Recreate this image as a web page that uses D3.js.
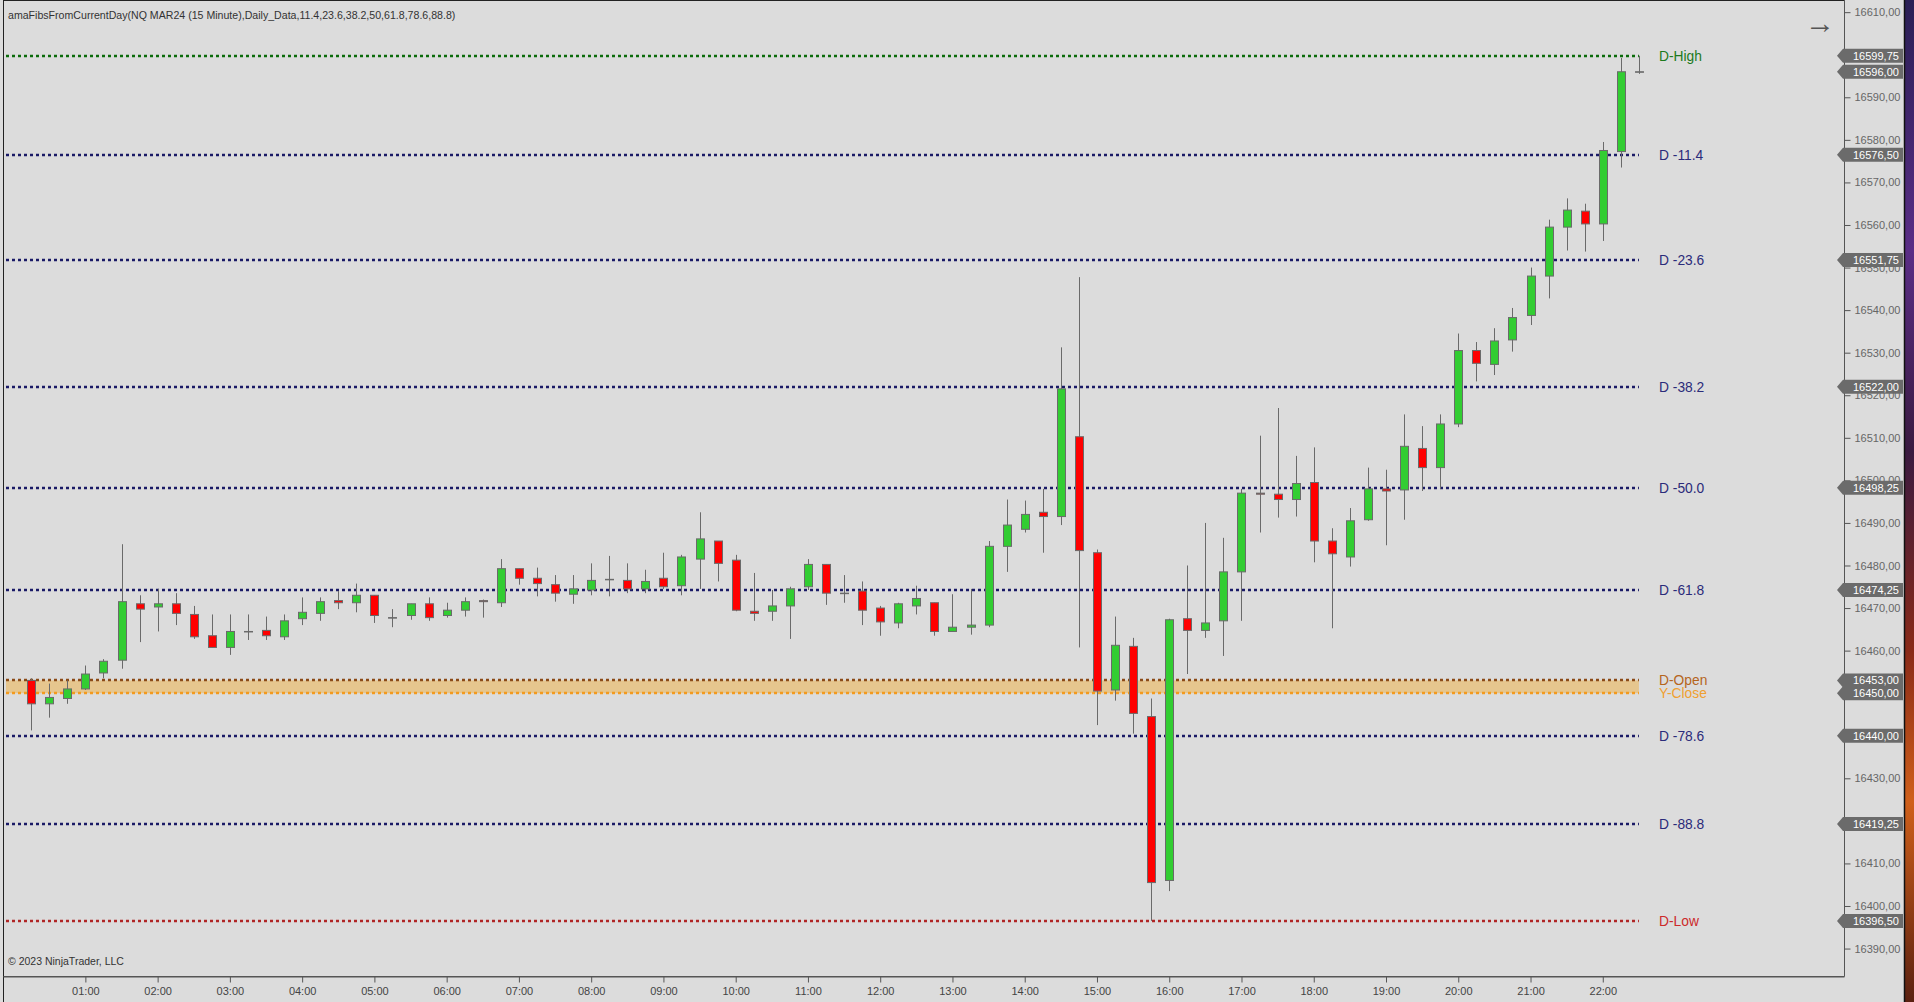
<!DOCTYPE html>
<html><head><meta charset="utf-8">
<script src="https://cdn.jsdelivr.net/npm/d3@7"></script>
<style>
body{margin:0;background:#dcdcdc;overflow:hidden}
svg{display:block}
text{font-family:Arial,"Liberation Sans",sans-serif}
</style></head>
<body><svg id="chart" width="1914" height="1002"></svg>
<script>
// ---------- DATA ----------
const chartTitle = "amaFibsFromCurrentDay(NQ MAR24 (15 Minute),Daily_Data,11.4,23.6,38.2,50,61.8,78.6,88.8)";
const copyright = "© 2023 NinjaTrader, LLC";

const times = [
"00:15","00:30","00:45","01:00","01:15","01:30","01:45","02:00","02:15","02:30","02:45","03:00",
"03:15","03:30","03:45","04:00","04:15","04:30","04:45","05:00","05:15","05:30","05:45","06:00",
"06:15","06:30","06:45","07:00","07:15","07:30","07:45","08:00","08:15","08:30","08:45","09:00",
"09:15","09:30","09:45","10:00","10:15","10:30","10:45","11:00","11:15","11:30","11:45","12:00",
"12:15","12:30","12:45","13:00","13:15","13:30","13:45","14:00","14:15","14:30","14:45","15:00",
"15:15","15:30","15:45","16:00","16:15","16:30","16:45","17:00","17:15","17:30","17:45","18:00",
"18:15","18:30","18:45","19:00","19:15","19:30","19:45","20:00","20:15","20:30","20:45","21:00",
"21:15","21:30","21:45","22:00","22:15","22:30"];

const opens = [
16453,16447.5,16448.75,16451,16454.75,16457.75,16471,16470.25,16471,16468.5,16463.5,16460.75,
16464.5,16464.75,16463.25,16467.5,16468.75,16471.75,16471.25,16473,16467.75,16468.25,16471,16468.25,
16469.5,16471.75,16471.25,16479.25,16477,16475.5,16473.25,16474.25,16476.75,16476.5,16474.5,16477,
16475.25,16481.5,16485.75,16481.25,16469.25,16469.25,16470.5,16475,16480.25,16473.5,16474,16470,
16466.5,16470.5,16471.25,16464.5,16465.5,16466,16484.5,16488.5,16492.5,16491.5,16510.25,16483,
16450.75,16461,16444.5,16406,16467.5,16464.75,16467,16478.5,16497,16496.75,16495.5,16499.5,
16485.75,16482,16490.75,16498,16497.75,16507.5,16503,16513.25,16530.5,16527.25,16533,16538.75,
16548,16559.5,16563.25,16560.25,16577.25,16596];
const highs = [
16453.5,16452.25,16453,16456.5,16458,16485,16473,16474.5,16473.5,16470.5,16468.5,16468.5,
16468.5,16468,16468.5,16472.5,16472.5,16474,16475.75,16473,16469.75,16471,16472.5,16471.25,
16472.5,16472,16481.5,16479.25,16479.5,16477.75,16477.75,16480.5,16482.25,16480.5,16479,16483,
16482.5,16492.5,16485.75,16482.5,16478.25,16474.25,16475,16481.5,16480.25,16477.75,16476.25,16470.5,
16471.25,16475.25,16471.25,16473.25,16474.5,16485.75,16495.5,16495.25,16498,16531.25,16547.75,16483.75,
16468,16463,16448.75,16467.5,16480,16490,16486.5,16498,16510.5,16517,16505.75,16507.75,
16488.75,16493.5,16503,16502.5,16515.5,16512.75,16515.5,16534.5,16532.5,16535.75,16540.5,16550,
16561.25,16566.25,16565,16579.5,16599.25,16599.75];
const lows = [
16441.25,16444.25,16447.5,16450.75,16453.5,16455.75,16462,16464.5,16466,16462.75,16460.75,16459,
16462.5,16462.5,16462.5,16466,16467,16469.75,16469,16466.5,16465.5,16467.25,16467,16467.75,
16468,16467.75,16470.25,16475.5,16472.75,16471.5,16471,16473,16472.75,16473.5,16473.5,16474.5,
16473,16474.5,16476.25,16469.25,16467,16467,16462.75,16474.25,16470.75,16471.25,16466,16463.5,
16465.25,16468.5,16463.5,16464.5,16463.75,16465.5,16478.5,16487.75,16483,16489.5,16460.75,16442.5,
16448.25,16440.5,16396.5,16403.5,16454.5,16463,16458.75,16467,16487.75,16491.25,16491.5,16480.75,
16465.25,16479.75,16490.5,16484.75,16490.75,16497.5,16498,16512.5,16523.25,16524.75,16530.25,16536.5,
16542.75,16554,16553.75,16556.25,16573.5,16595.5];
const closes = [
16447.5,16449,16451,16454.5,16457.5,16471.5,16469.75,16471,16468.75,16463.25,16460.75,16464.5,
16464.5,16463.5,16467,16469,16471.5,16471.25,16473,16468.25,16467.75,16471,16467.75,16469.5,
16471.5,16471.5,16479.25,16477,16475.75,16473.5,16474.5,16476.5,16476.75,16474.5,16476.25,16475,
16482,16486.25,16480.5,16469.5,16468.75,16470.5,16474.5,16480.25,16473.5,16473.5,16469.5,16466.75,
16471,16472.25,16464.5,16465.5,16466,16484.5,16489.5,16492,16491.5,16521.5,16483.5,16450.5,
16461.25,16445.25,16405.5,16467.25,16464.75,16466.5,16478.5,16497,16496.75,16495.5,16499.25,16485.75,
16482.75,16490.5,16498,16497.5,16508,16503,16513.25,16530.5,16527.5,16532.75,16538.25,16548,
16559.5,16563.5,16560.25,16577.5,16596,16596];

const levelNames  = ["D-High","D -11.4","D -23.6","D -38.2","D -50.0","D -61.8","D-Open","Y-Close","D -78.6","D -88.8","D-Low"];
const levelValues = [16599.75,16576.5,16551.75,16522,16498.25,16474.25,16453,16450,16440,16419.25,16396.5];

const priceTicks = [16390,16400,16410,16420,16430,16440,16450,16460,16470,16480,16490,16500,
                    16510,16520,16530,16540,16550,16560,16570,16580,16590,16600,16610];
const timeTickLabels = ["01:00","02:00","03:00","04:00","05:00","06:00","07:00","08:00","09:00","10:00","11:00",
                        "12:00","13:00","14:00","15:00","16:00","17:00","18:00","19:00","20:00","21:00","22:00"];

// ---------- STYLE ----------
const levelStyle = {
  "D-High":  {line:"#0b6b0b", text:"#1d7a1d"},
  "D-Open":  {line:"#8b4a16", text:"#b5651d"},
  "Y-Close": {line:"#f39a1e", text:"#f0a030"},
  "D-Low":   {line:"#b02525", text:"#cc2a2a"},
  "fib":     {line:"#1a1a66", text:"#2b2b7a"}
};

// ---------- SCALES ----------
const svg = d3.select("#chart");
const toMin = s => { const [h,m] = s.split(":").map(Number); return h*60+m; };
const x = d3.scaleLinear().domain([-8.4, 1520.3]).range([3, 1844]);
const y = d3.scaleLinear().domain([16384, 16613]).range([974.1, -0.6]);
const fmt = v => d3.format(".2f")(v).replace(".", ",");

// background
svg.append("rect").attr("width",1914).attr("height",1002).attr("fill","#dcdcdc");

// desktop strip at right
const defs = svg.append("defs");
const g1 = defs.append("linearGradient").attr("id","wall").attr("x1",0).attr("y1",0).attr("x2",0).attr("y2",1);
[[0,"#2a1f55"],[0.25,"#5a2d86"],[0.45,"#3a1a40"],[0.65,"#8a2a18"],[0.8,"#d0601a"],[1,"#5a2010"]]
  .forEach(([o,c]) => g1.append("stop").attr("offset",o).attr("stop-color",c));
svg.append("rect").attr("x",1905).attr("y",0).attr("width",9).attr("height",1002).attr("fill","url(#wall)");
svg.append("line").attr("x1",1904.5).attr("x2",1904.5).attr("y1",0).attr("y2",1002).attr("stroke","#111").attr("stroke-width",1.5);

// frame
svg.append("line").attr("x1",3.5).attr("x2",3.5).attr("y1",0).attr("y2",1002).attr("stroke","#222");
svg.append("line").attr("x1",3).attr("x2",1844).attr("y1",0.5).attr("y2",0.5).attr("stroke","#222");

// title & copyright
svg.append("text").attr("x",8).attr("y",19).attr("font-size",10.6).attr("fill","#333").text(chartTitle);
svg.append("text").attr("x",8).attr("y",965).attr("font-size",10.5).attr("fill","#333").text(copyright);
svg.append("text").attr("x",1820).attr("y",33).attr("text-anchor","middle").attr("font-size",30).attr("fill","#555").text("→");

// ---------- LEVELS ----------
const xStart = 6, xEnd = x(toMin(times[times.length-1]));
const iOpen = levelNames.indexOf("D-Open"), iYC = levelNames.indexOf("Y-Close");
svg.append("rect").attr("x",xStart).attr("width",xEnd-xStart)
  .attr("y",y(levelValues[iOpen])).attr("height",y(levelValues[iYC])-y(levelValues[iOpen]))
  .attr("fill","#e6c68e");

const lv = svg.append("g");
levelNames.forEach((n,i) => {
  const st = levelStyle[n] || levelStyle.fib;
  const yy = Math.round(y(levelValues[i]));
  lv.append("line").attr("x1",xStart).attr("x2",xEnd).attr("y1",yy).attr("y2",yy)
    .attr("stroke",st.line).attr("stroke-width",2.5).attr("stroke-dasharray","3,3");
  lv.append("text").attr("x",1659).attr("y",yy).attr("dy","0.36em").attr("font-size",13.8)
    .attr("fill",st.text).text(n);
});

// ---------- CANDLES ----------
const bars = times.map((t,i) => ({t:toMin(t), o:opens[i], h:highs[i], l:lows[i], c:closes[i]}));
const cg = svg.append("g");
cg.selectAll("line.wick").data(bars).join("line").attr("class","wick")
  .attr("x1",d=>Math.round(x(d.t))+0.5).attr("x2",d=>Math.round(x(d.t))+0.5)
  .attr("y1",d=>y(d.h)).attr("y2",d=>y(d.l)).attr("stroke","#6a6a6a").attr("stroke-width",1);
cg.selectAll("rect.body").data(bars).join("rect").attr("class","body")
  .attr("x",d=>Math.round(x(d.t))-4+0.5).attr("width",8)
  .attr("y",d=>y(Math.max(d.o,d.c)))
  .attr("height",d=>Math.max(0.5, Math.abs(y(d.o)-y(d.c))))
  .attr("fill",d=>d.c>d.o?"#32cd32":(d.c<d.o?"#ff0000":"#6a6a6a"))
  .attr("stroke","#6a6a6a").attr("stroke-width",1);

// ---------- AXES ----------
const xAxis = d3.axisBottom(x).tickValues(timeTickLabels.map(toMin))
  .tickFormat((d,i)=>timeTickLabels[i]).tickSize(6).tickSizeOuter(0).tickPadding(5);
const gx = svg.append("g").attr("transform","translate(0,976.5)").call(xAxis);
gx.select(".domain").attr("stroke","#555");
gx.selectAll(".tick line").attr("stroke","#555");
gx.selectAll("text").attr("font-size",11).attr("fill","#444").attr("font-family","Arial, 'Liberation Sans', sans-serif");

const yAxis = d3.axisRight(y).tickValues(priceTicks).tickFormat(fmt).tickSize(6).tickSizeOuter(0).tickPadding(4);
const gy = svg.append("g").attr("transform","translate(1844.5,0)").call(yAxis);
gy.select(".domain").attr("stroke","#555").attr("d","M0,0V976.5H-1841");
gy.selectAll(".tick line").attr("stroke","#555");
gy.selectAll("text").attr("font-size",11).attr("fill","#666").attr("font-family","Arial, 'Liberation Sans', sans-serif");

// ---------- PRICE FLAGS ----------
const flagValues = levelValues.concat([closes[closes.length-1]]);
const fg = svg.append("g");
flagValues.forEach(v => {
  const yy = y(v);
  fg.append("path").attr("d",`M1837,${yy}L1843,${yy-7}H1903V${yy+7}H1843Z`).attr("fill","#6b6b6b");
  fg.append("text").attr("x",1853).attr("y",yy).attr("dy","0.35em").attr("font-size",11)
    .attr("fill","#fff").text(fmt(v));
});
</script></body></html>
